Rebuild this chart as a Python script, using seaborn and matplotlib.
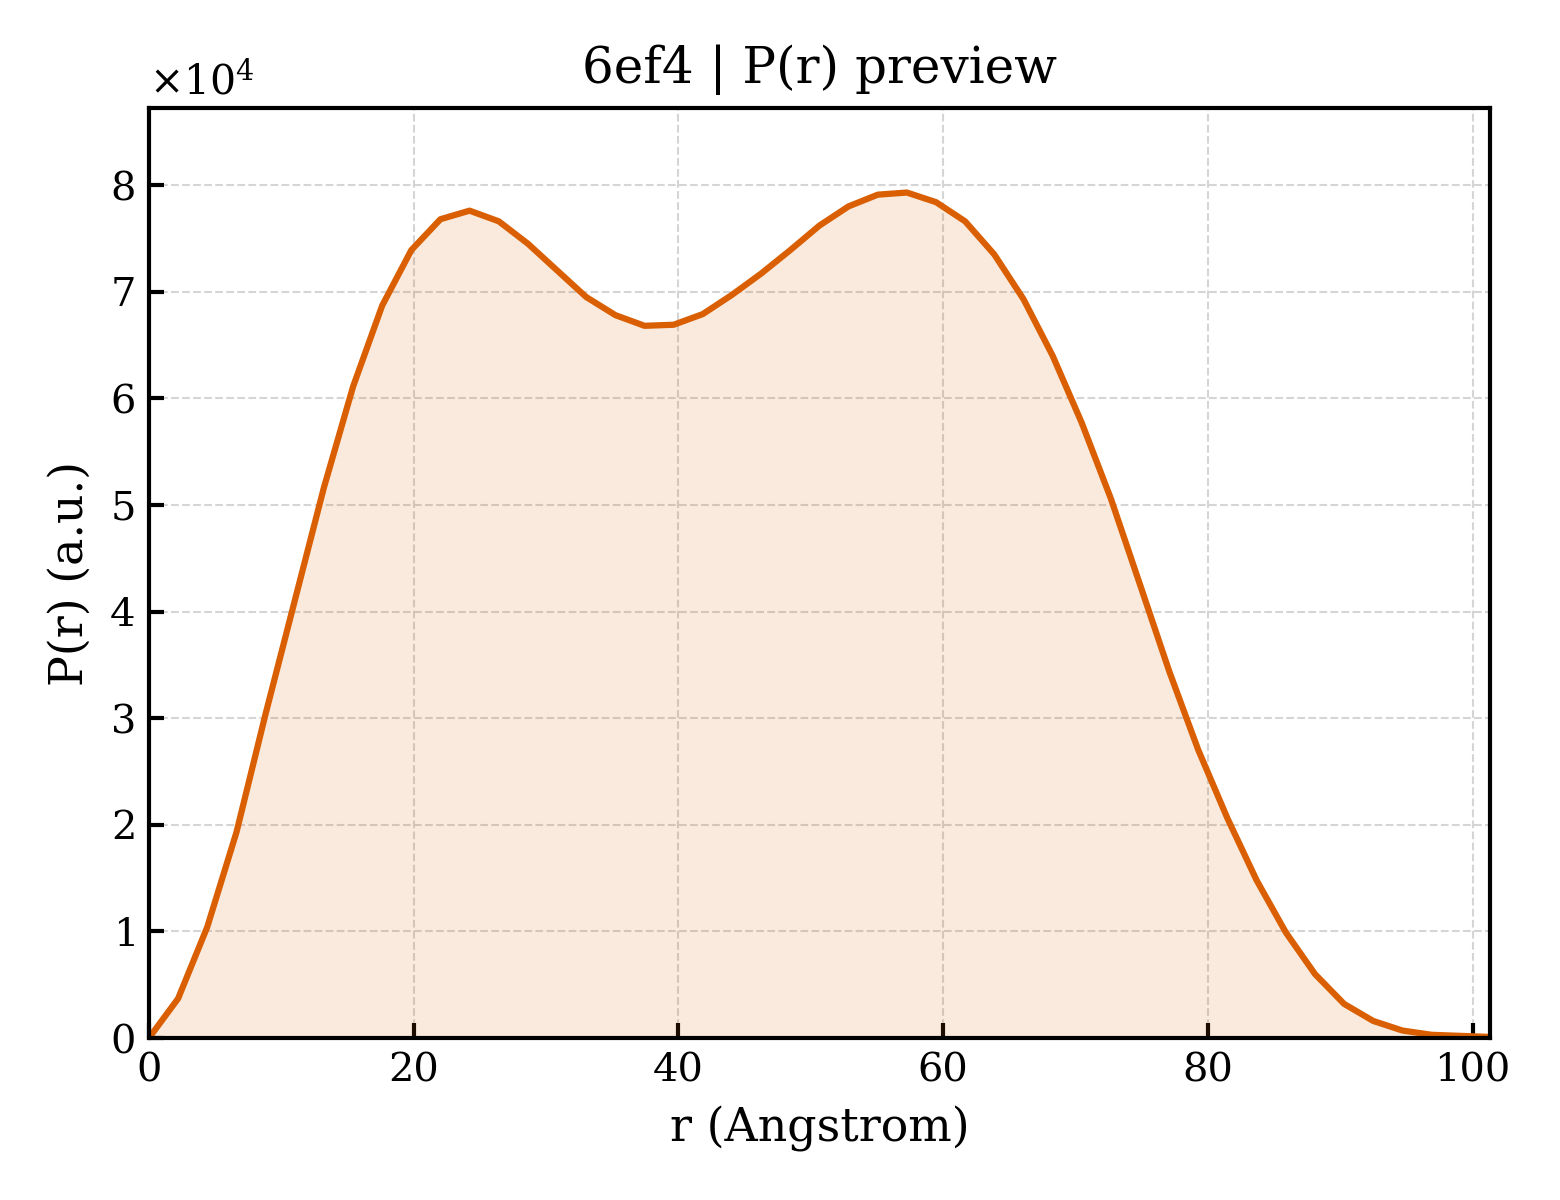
import matplotlib
matplotlib.use("Agg")
import matplotlib.pyplot as plt
import seaborn as sns
import pandas as pd

# P(r) curve (r in Angstrom, P in units of 1e4)
r_vals = [0.00, 2.20, 4.40, 6.61, 8.81, 11.01, 13.21, 15.42, 17.62, 19.82,
          22.02, 24.22, 26.43, 28.63, 30.83, 33.03, 35.24, 37.44, 39.64, 41.84,
          44.04, 46.25, 48.45, 50.65, 52.85, 55.06, 57.26, 59.46, 61.66, 63.86,
          66.07, 68.27, 70.47, 72.67, 74.88, 77.08, 79.28, 81.48, 83.68, 85.89,
          88.09, 90.29, 92.49, 94.70, 96.90, 99.10, 101.30]
pr_1e4 = [0.00, 0.37, 1.04, 1.93, 3.04, 4.10, 5.16, 6.11, 6.87, 7.39,
          7.68, 7.76, 7.66, 7.45, 7.20, 6.95, 6.78, 6.68, 6.69, 6.79,
          6.97, 7.17, 7.39, 7.62, 7.80, 7.91, 7.93, 7.84, 7.66, 7.35,
          6.93, 6.40, 5.77, 5.06, 4.25, 3.44, 2.70, 2.06, 1.48, 0.99,
          0.60, 0.32, 0.16, 0.07, 0.03, 0.02, 0.01]

title = "6ef4 | P(r) preview"
line_color = "#d95f02"

df = pd.DataFrame({"r": r_vals, "pr": [v * 1e4 for v in pr_1e4]})

sns.set_theme(style="white")
plt.rcParams["font.family"] = ["DejaVu Serif"]
plt.rcParams["mathtext.fontset"] = "dejavuserif"
plt.rcParams["text.color"] = "black"
plt.rcParams["axes.labelcolor"] = "black"

fig, ax = plt.subplots(figsize=(5.2, 4), dpi=300)
fig.subplots_adjust(left=0.0955, right=0.955, bottom=0.135, top=0.91)

ax.fill_between(df["r"], df["pr"], 0, color=line_color, alpha=0.13, linewidth=0)
sns.lineplot(data=df, x="r", y="pr", ax=ax, color=line_color, linewidth=1.5)

ax.set_xlim(0, df["r"].max())
ax.set_ylim(0, df["pr"].max() * 1.1)
ax.ticklabel_format(axis="y", style="sci", scilimits=(0, 0), useMathText=True)

ax.grid(True, linestyle="--", linewidth=0.5, color="0.82", alpha=0.9)
for s in ax.spines.values():
    s.set_color("black")
    s.set_linewidth(1.0)
ax.tick_params(direction="in", length=3.5, width=1.0, labelsize=9.6,
               colors="black", bottom=True, left=True)
ax.yaxis.get_offset_text().set_fontsize(9.8)
ax.yaxis.get_offset_text().set_color("black")

ax.set_xlabel("r (Angstrom)", fontsize=11, color="black")
ax.set_ylabel("P(r) (a.u.)", fontsize=11, color="black")
ax.set_title(title, fontsize=12, color="black")

fig.savefig("out.png", dpi=300)
